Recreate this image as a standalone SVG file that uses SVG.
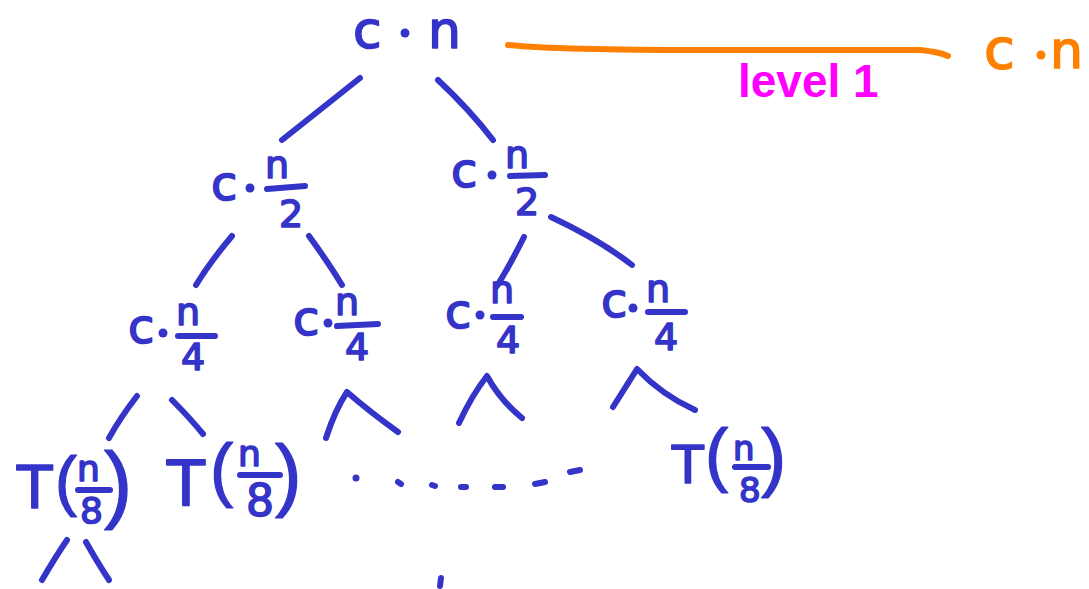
<svg xmlns="http://www.w3.org/2000/svg" width="1089" height="589" viewBox="0 0 1089 589">
<style>
.t{font-family:"DejaVu Sans","Liberation Sans",sans-serif;fill:#3434c8;stroke:#3434c8;stroke-width:1.6;stroke-linejoin:round}
.c{font-size:48px}
.n{font-size:38px}
.d{font-size:38px}
.p{font-family:"Liberation Sans",Arial,sans-serif;stroke-width:1.2}
.e{fill:none;stroke:#3434c8;stroke-width:6;stroke-linecap:round;stroke-linejoin:round}
.bar{stroke:#3434c8;stroke-width:6;stroke-linecap:round}
.dot{fill:#3434c8}
.o{font-family:"DejaVu Sans","Liberation Sans",sans-serif;fill:#ff8000;stroke:#ff8000;stroke-width:1.6}
</style>
<rect width="1089" height="589" fill="#ffffff"/>

<g id="root">
<text class="t" style="font-size:52px" x="353" y="48">c</text>
<circle class="dot" cx="405" cy="33" r="4.5"/>
<text class="t" style="font-size:52px" x="428" y="48">n</text>
</g>

<g id="level1">
<path d="M508,45 Q560,50 700,50 L920,50 Q940,52 948,56" fill="none" stroke="#ff8000" stroke-width="6" stroke-linecap="round"/>
<text class="o" style="font-size:56px" x="984" y="68">c</text>
<circle cx="1041" cy="55" r="4.5" fill="#ff8000"/>
<text class="o" style="font-size:52px" x="1050" y="68">n</text>
<text x="738" y="97" style="font-family:'Liberation Sans',Arial,sans-serif;font-size:46px;font-weight:bold;fill:#ff00ff">level 1</text>
</g>

<g id="n2L">
<text class="t c" x="211" y="200">c</text>
<circle class="dot" cx="250" cy="188" r="4.5"/>
<text class="t n" x="265" y="178">n</text>
<line class="bar" x1="267" y1="189" x2="305" y2="186"/>
<text class="t d" x="279" y="227">2</text>
</g>

<g id="n2R">
<text class="t c" x="451" y="187">c</text>
<circle class="dot" cx="492" cy="175" r="4.5"/>
<text class="t n" x="505" y="168">n</text>
<line class="bar" x1="510" y1="176" x2="545" y2="175"/>
<text class="t d" x="515" y="215">2</text>
</g>

<g id="n3a">
<text class="t c" x="128" y="343">c</text>
<circle class="dot" cx="163" cy="333" r="4.5"/>
<text class="t n" x="176" y="325">n</text>
<line class="bar" x1="178" y1="336" x2="215" y2="336"/>
<text class="t d" x="181" y="370">4</text>
</g>

<g id="n3b">
<text class="t c" x="293" y="335">c</text>
<circle class="dot" cx="328" cy="323" r="4.5"/>
<text class="t n" x="335" y="315">n</text>
<line class="bar" x1="337" y1="326" x2="378" y2="324"/>
<text class="t d" x="345" y="360">4</text>
</g>

<g id="n3c">
<text class="t c" x="445" y="328">c</text>
<circle class="dot" cx="480" cy="315" r="4.5"/>
<text class="t n" x="490" y="303">n</text>
<line class="bar" x1="493" y1="317" x2="521" y2="317"/>
<text class="t d" x="496" y="353">4</text>
</g>

<g id="n3d">
<text class="t c" x="601" y="317">c</text>
<circle class="dot" cx="633" cy="308" r="4.5"/>
<text class="t n" x="646" y="302">n</text>
<line class="bar" x1="648" y1="312" x2="685" y2="312"/>
<text class="t d" x="654" y="350">4</text>
</g>

<g id="t1">
<text class="t" style="font-size:58px" x="17" y="508">T</text>
<text class="t p" style="font-size:66px" x="55" y="503">(</text>
<text class="t" style="font-size:36px" x="77" y="481">n</text>
<line class="bar" x1="78" y1="490" x2="110" y2="490"/>
<text class="t" style="font-size:36px" x="80" y="523">8</text>
<text class="t p" style="font-size:85px" x="104" y="512">)</text>
</g>

<g id="t2">
<text class="t" style="font-size:62px" x="167" y="505">T</text>
<text class="t p" style="font-size:70px" x="210" y="493">(</text>
<text class="t" style="font-size:36px" x="238" y="466">n</text>
<line class="bar" x1="240" y1="475" x2="280" y2="475"/>
<text class="t" style="font-size:44px" x="246" y="516">8</text>
<text class="t p" style="font-size:80px" x="275" y="501">)</text>
</g>

<g id="t3">
<text class="t" style="font-size:52px" x="672" y="483">T</text>
<text class="t p" style="font-size:70px" x="705" y="478">(</text>
<text class="t" style="font-size:34px" x="733" y="460">n</text>
<line class="bar" x1="735" y1="467" x2="768" y2="467"/>
<text class="t" style="font-size:34px" x="739" y="502">8</text>
<text class="t p" style="font-size:76px" x="761" y="482">)</text>
</g>

<g id="connectors">
<path class="e" d="M360,78 Q320,110 282,140"/>
<path class="e" d="M438,80 Q470,110 493,140"/>
<path class="e" d="M232,236 Q210,262 196,285"/>
<path class="e" d="M309,236 Q328,262 342,285"/>
<path class="e" d="M524,237 Q510,265 497,286"/>
<path class="e" d="M551,217 Q600,240 632,265"/>
<path class="e" d="M137,396 Q120,418 109,438"/>
<path class="e" d="M172,400 Q190,418 203,434"/>
<path class="e" d="M326,438 Q335,410 347,392 Q370,412 398,432"/>
<path class="e" d="M459,423 Q472,395 487,376 Q500,400 522,418"/>
<path class="e" d="M613,407 Q625,388 637,369 Q662,395 695,410"/>
<path class="e" d="M42,580 Q56,556 67,540"/>
<path class="e" d="M86,542 Q96,560 109,580"/>
<path class="e" d="M441,578 L440,586"/>
<circle class="dot" cx="356" cy="478" r="3.5"/>
<path class="e" d="M398,482 L401,484"/>
<path class="e" d="M432,485 L435,486"/>
<path class="e" d="M461,487 L466,487"/>
<path class="e" d="M495,487 L503,487"/>
<path class="e" d="M535,484 L545,482"/>
<path class="e" d="M570,472 L580,470"/>
</g>
</svg>
